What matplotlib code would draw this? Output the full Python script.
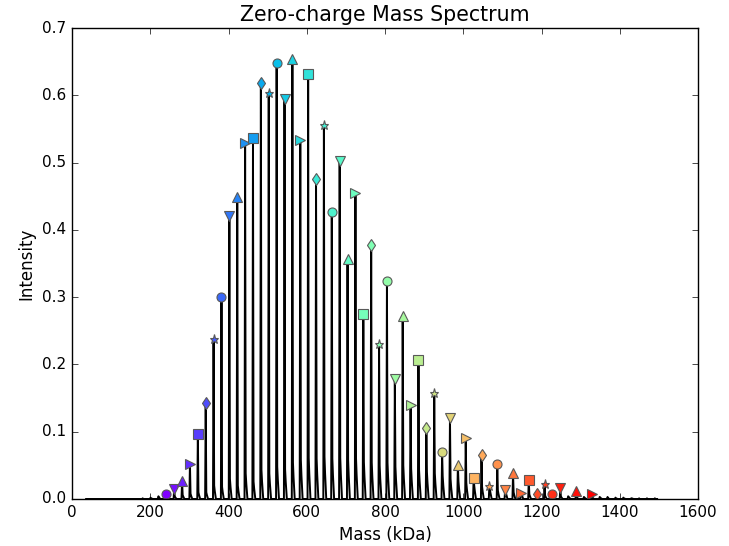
import numpy as np
import matplotlib
matplotlib.use("Agg")
import matplotlib.pyplot as plt

# --- data ---
# charge-state peak masses (kDa), ~20.14 kDa apart
peak_mass = [180.6, 200.7, 220.9, 241.0, 261.1, 281.3, 301.4, 321.6, 341.7, 361.8,
             382.0, 402.1, 422.3, 442.4, 462.5, 482.7, 502.8, 523.0, 543.1, 563.2,
             583.4, 603.5, 623.7, 643.8, 663.9, 684.1, 704.2, 724.4, 744.5, 764.6,
             784.8, 804.9, 825.1, 845.2, 865.3, 885.5, 905.6, 925.8, 945.9, 966.0,
             986.2, 1006.3, 1026.5, 1046.6, 1066.7, 1086.9, 1107.0, 1127.2, 1147.3, 1167.4,
             1187.6, 1207.7, 1227.9, 1248.0, 1268.1, 1288.3, 1308.4, 1328.6, 1348.7, 1368.8,
             1389.0, 1409.1, 1429.3, 1449.4, 1469.5, 1489.7]
peak_int = [0.001, 0.002, 0.004, 0.007, 0.015, 0.026, 0.052, 0.097, 0.142, 0.238,
            0.300, 0.420, 0.449, 0.529, 0.537, 0.619, 0.604, 0.648, 0.594, 0.654,
            0.533, 0.631, 0.476, 0.556, 0.426, 0.503, 0.357, 0.455, 0.275, 0.378,
            0.231, 0.324, 0.178, 0.272, 0.140, 0.207, 0.106, 0.157, 0.070, 0.120,
            0.050, 0.091, 0.031, 0.065, 0.019, 0.052, 0.013, 0.038, 0.009, 0.028,
            0.008, 0.023, 0.007, 0.016, 0.004, 0.012, 0.003, 0.008, 0.003, 0.003,
            0.002, 0.002, 0.001, 0.001, 0.001, 0.001]
# small shoulder at the foot of each peak
shoulder_int = [0.000, 0.001, 0.002, 0.003, 0.004, 0.006, 0.008, 0.010, 0.010, 0.020,
                0.018, 0.030, 0.020, 0.038, 0.026, 0.043, 0.038, 0.048, 0.044, 0.054,
                0.058, 0.061, 0.060, 0.063, 0.060, 0.061, 0.058, 0.060, 0.055, 0.054,
                0.050, 0.054, 0.048, 0.050, 0.045, 0.043, 0.040, 0.038, 0.034, 0.030,
                0.026, 0.024, 0.020, 0.018, 0.014, 0.013, 0.011, 0.010, 0.008, 0.007,
                0.006, 0.005, 0.004, 0.004, 0.003, 0.003, 0.002, 0.002, 0.002, 0.001,
                0.001, 0.001, 0.001, 0.000, 0.000, 0.000]
# peaks that got a marker (index into the lists above)
marked = list(range(3, 54)) + [55, 57]
markers = ['o', 'v', '^', '>', 's', 'd', '*']

spec_start, spec_end = 36, 1495

# build the spectrum trace from the peak list
xs = [spec_start]
ys = [0.0]
for m, h, s in zip(peak_mass, peak_int, shoulder_int):
    xs += [m - 1.5, m, m + 1.5, m + 3.0, m + 6.0]
    ys += [0.0, h, s, s * 0.6, 0.0]
xs.append(spec_end)
ys.append(0.0)

plt.style.use('classic')
plt.rcParams['font.family'] = 'DejaVu Sans'
plt.rcParams['font.size'] = 11

fig = plt.figure(figsize=(7.29, 5.46), dpi=100, facecolor='white')
ax = fig.add_axes([0.0988, 0.0861, 0.8587, 0.8626])

ax.plot(xs, ys, color='k', lw=1.4)

cmap = matplotlib.colormaps['rainbow'].resampled(len(marked))
for k, idx in enumerate(marked):
    ax.plot(peak_mass[idx], peak_int[idx], linestyle='none',
            marker=markers[k % len(markers)], color=cmap(k),
            markersize=6.5, markeredgecolor='0.35', markeredgewidth=0.8)

ax.set_xlim(0, 1600)
ax.set_ylim(0, 0.7)
ax.tick_params(labelsize=11)
ax.set_title("Zero-charge Mass Spectrum", fontsize=14.8)
ax.set_xlabel("Mass (kDa)", fontsize=12)
ax.set_ylabel("Intensity", fontsize=12)

fig.savefig("out.png", dpi=100, facecolor='white')
